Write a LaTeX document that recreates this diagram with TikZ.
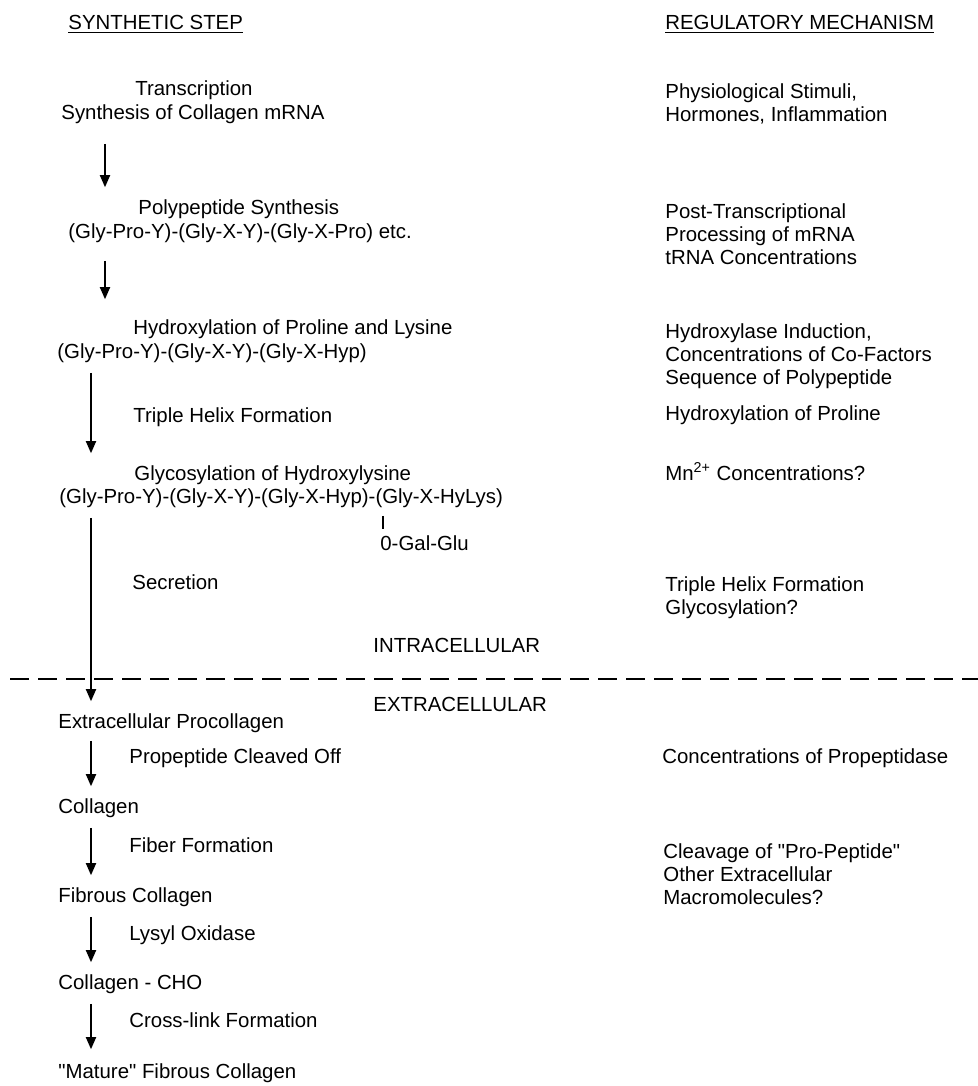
\documentclass[tikz,border=0pt]{standalone}
\usepackage{fontspec}
\setmainfont{Liberation Sans}
\usepackage{tikz}
\usetikzlibrary{arrows.meta}

\begin{document}
\begin{tikzpicture}[x=0.5pt, y=-0.5pt,
    every node/.style={inner sep=0pt, font=\fontsize{10.2}{11.5}\selectfont},
    txt/.style={anchor=west, text height=7.3pt, text depth=2.1pt},
    reg/.style={anchor=north west, align=left},
    flow/.style={-{Triangle[width=5pt,length=6pt]}, line width=0.9pt,
      shorten <=5pt, shorten >=6pt},
    bond/.style={line width=1pt, shorten <=4pt, shorten >=3pt}]
    \useasboundingbox (0,0) rectangle (978,1086);
    % column headings
    \node[txt] (hdsyn) at (68,24) {\underline{SYNTHETIC STEP}};
    \node[txt] (hdreg) at (665,24) {\underline{REGULATORY MECHANISM}};
    % x positions of the arrows
    \coordinate (ca) at (105,0);
    \coordinate (cb) at (91,0);
    \coordinate (bx) at (383,0);
    % synthetic steps, intracellular
    \node[txt] (trans) at (135,90) {Transcription};
    \node[txt] (mrna) at (61,114) {Synthesis of Collagen mRNA};
    \node[txt] (polyt) at (138,209) {Polypeptide Synthesis};
    \node[txt] (polyseq) at (68,233) {(Gly-Pro-Y)-(Gly-X-Y)-(Gly-X-Pro) etc.};
    \node[txt] (hydt) at (133,329) {Hydroxylation of Proline and Lysine};
    \node[txt] (hydseq) at (57,353) {(Gly-Pro-Y)-(Gly-X-Y)-(Gly-X-Hyp)};
    \node[txt] (helix) at (133,417) {Triple Helix Formation};
    \node[txt] (glyt) at (134,475) {Glycosylation of Hydroxylysine};
    \node[txt] (glyseq) at (59,498) {(Gly-Pro-Y)-(Gly-X-Y)-(Gly-X-Hyp)-(Gly-X-HyLys)};
    \node[txt] (galglu) at (380,545) {0-Gal-Glu};
    \node[txt] (secr) at (132,584) {Secretion};
    % membrane
    \node[txt] (intra) at (373,647) {INTRACELLULAR};
    \draw[line width=0.7pt, dash pattern=on 9.5pt off 4.5pt] (10,679) -- (978,679);
    \node[txt] (extra) at (373,706) {EXTRACELLULAR};
    % synthetic steps, extracellular
    \node[txt] (procol) at (58,723) {Extracellular Procollagen};
    \node[txt] (cleave) at (129,758) {Propeptide Cleaved Off};
    \node[txt] (coll) at (58,808) {Collagen};
    \node[txt] (fiber) at (129,847) {Fiber Formation};
    \node[txt] (fibcol) at (58,897) {Fibrous Collagen};
    \node[txt] (lysyl) at (129,935) {Lysyl Oxidase};
    \node[txt] (cho) at (58,984) {Collagen - CHO};
    \node[txt] (cross) at (129,1022) {Cross-link Formation};
    \node[txt] (mature) at (58,1073) {\textquotedbl Mature\textquotedbl{} Fibrous Collagen};
    % arrows between the steps
    \draw[flow, shorten <=10pt] (mrna.south -| ca) -- (polyt.north -| ca);
    \draw[flow, shorten <=9pt, shorten >=10pt] (polyseq.south -| ca) -- (hydt.north -| ca);
    \draw[flow] (hydseq.south -| cb) -- (glyt.north -| cb);
    \draw[flow] (glyseq.south -| cb) -- (procol.north -| cb);
    \draw[flow, shorten <=4pt] (procol.south -| cb) -- (coll.north -| cb);
    \draw[flow] (coll.south -| cb) -- (fibcol.north -| cb);
    \draw[flow] (fibcol.south -| cb) -- (cho.north -| cb);
    \draw[flow, shorten >=7pt] (cho.south -| cb) -- (mature.north -| cb);
    \draw[bond] (glyseq.south -| bx) -- (galglu.north -| bx);
    % regulatory mechanisms
    \node[reg] (phys) at (665,83) {Physiological Stimuli,\\Hormones, Inflammation};
    \node[reg] (posttr) at (665,203) {Post-Transcriptional\\Processing of mRNA\\tRNA Concentrations};
    \node[reg] (hydind) at (665,323) {Hydroxylase Induction,\\Concentrations of Co-Factors\\Sequence of Polypeptide};
    \node[txt] (hydpro) at (665,415) {Hydroxylation of Proline};
    \node[txt] (mn) at (665,475) {Mn\textsuperscript{2+} Concentrations?};
    \node[reg] (helgly) at (665,576) {Triple Helix Formation\\Glycosylation?};
    \node[txt] (propep) at (662,758) {Concentrations of Propeptidase};
    \node[reg] (cleavpp) at (663,843) {Cleavage of \textquotedbl Pro-Peptide\textquotedbl\\Other Extracellular\\Macromolecules?};
\end{tikzpicture}
\end{document}
